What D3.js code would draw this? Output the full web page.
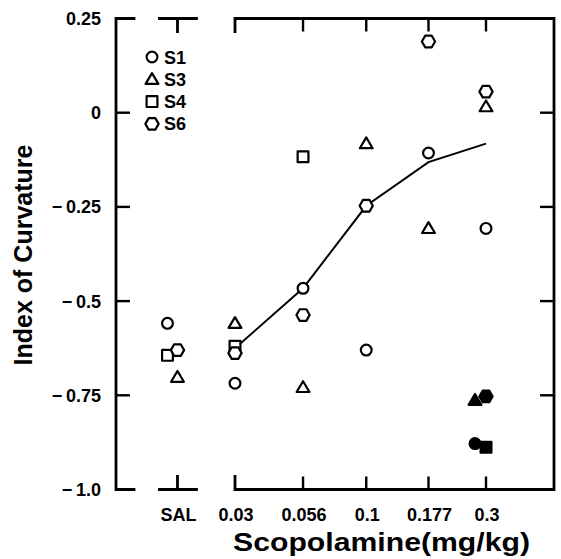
<!DOCTYPE html>
<html>
<head>
<meta charset="utf-8">
<script src="https://cdn.jsdelivr.net/npm/d3@7"></script>
<style>
  body { margin: 0; background: #fff; }
  text { font-family: 'Liberation Sans', Arial, Helvetica, sans-serif; font-weight: bold; fill: #000; }
</style>
</head>
<body>
<script>

var WIDTH = 561, HEIGHT = 559;
var LEFT = 116, RIGHT = 554, TOP = 18.5, BOTTOM = 489.5;

// doses, SAL sits one quarter-log step below 0.03
var doses = [0.0177, 0.03, 0.056, 0.1, 0.177, 0.3];
var doseLabels = ['SAL', '0.03', '0.056', '0.1', '0.177', '0.3'];

// index of curvature per subject, one value per dose (null = no point)
var s1 = [-0.559, -0.718, -0.466, -0.630, -0.107, -0.307];
var s3 = [-0.702, -0.559, -0.729, -0.082, -0.307, 0.016];
var s4 = [-0.644, -0.620, -0.117, null, null, null];
var s6 = [-0.630, -0.638, -0.537, -0.247, 0.189, 0.056];

// filled symbols at 0.3
var filledDose = 0.3;
var filledS1 = -0.878, filledS3 = -0.763, filledS4 = -0.888, filledS6 = -0.753;

// curve through the group
var curveDoses = [0.03, 0.056, 0.1, 0.177, 0.3];
var curveValues = [-0.625, -0.466, -0.247, -0.131, -0.082];

var yTicks = [0.25, 0, -0.25, -0.5, -0.75, -1.0];
var yTickLabels = ['0.25', '0', '\u2212\u20090.25', '\u2212\u20090.5', '\u2212\u20090.75', '\u2212\u20091.0'];

var subjects = ['S1', 'S3', 'S4', 'S6'];
var shapes = { S1: 'circle', S3: 'triangle', S4: 'square', S6: 'hexagon' };

// horizontal nudges for overlapping symbols (px)
var nudge = { 'S1-0': -10, 'S4-0': -10, 'S1-f': -11, 'S3-f': -11 };

var x = d3.scaleLog().domain([0.03, 0.3]).range([235, 486]);
var y = d3.scaleLinear().domain([0.25, -1.0]).range([TOP, BOTTOM]);

var svg = d3.select('body').append('svg').attr('width', WIDTH).attr('height', HEIGHT);

function symbolPath(shape) {
    if (shape === 'circle') return d3.arc()({ innerRadius: 0, outerRadius: 5.4, startAngle: 0, endAngle: 2 * Math.PI });
    if (shape === 'square') return 'M-5.4,-5.4H5.4V5.4H-5.4Z';
    if (shape === 'triangle') return 'M0,-6.2L6.4,4.6H-6.4Z';
    // hexagon, pointed left and right
    var pts = d3.range(6).map(function (i) {
        var a = i * Math.PI / 3;
        return [6.6 * Math.cos(a), 5.8 * Math.sin(a) / Math.sin(Math.PI / 3)];
    });
    return 'M' + pts.map(function (p) { return p[0].toFixed(2) + ',' + p[1].toFixed(2); }).join('L') + 'Z';
}

// ---- frame ----
var frame = svg.append('g')
    .attr('fill', 'none')
    .attr('stroke', '#000')
    .attr('stroke-width', 2.8)
    .attr('stroke-linecap', 'square');

var xSal = x(doses[0]), x03 = x(doses[1]);
var TICK = 13;

frame.append('path').attr('d',
    'M' + (LEFT + 18) + ',' + TOP + 'H' + LEFT + 'V' + BOTTOM + 'H' + (LEFT + 18));
frame.append('path').attr('d',
    'M' + (xSal - 18) + ',' + TOP + 'H' + (xSal + 19) +
    'M' + xSal + ',' + TOP + 'V' + (TOP + TICK));
frame.append('path').attr('d',
    'M' + (xSal - 18) + ',' + BOTTOM + 'H' + (xSal + 19) +
    'M' + xSal + ',' + BOTTOM + 'V' + (BOTTOM - TICK));
frame.append('path').attr('d',
    'M' + x03 + ',' + (TOP + TICK) + 'V' + TOP + 'H' + RIGHT + 'V' + BOTTOM + 'H' + x03 + 'V' + (BOTTOM - TICK));

var ticks = svg.append('g').attr('stroke', '#000').attr('stroke-width', 2.4);
doses.slice(2).forEach(function (d) {
    ticks.append('line').attr('x1', x(d)).attr('x2', x(d)).attr('y1', TOP).attr('y2', TOP + TICK);
    ticks.append('line').attr('x1', x(d)).attr('x2', x(d)).attr('y1', BOTTOM).attr('y2', BOTTOM - TICK);
});
yTicks.slice(1, -1).forEach(function (v) {
    ticks.append('line').attr('x1', LEFT).attr('x2', LEFT + 14).attr('y1', y(v)).attr('y2', y(v));
    ticks.append('line').attr('x1', RIGHT).attr('x2', RIGHT - 14).attr('y1', y(v)).attr('y2', y(v));
});

// ---- tick labels ----
svg.append('g').selectAll('text')
    .data(yTicks)
    .enter().append('text')
    .attr('x', 101)
    .attr('y', function (d) { return y(d) + 6.5; })
    .attr('text-anchor', 'end')
    .attr('font-size', 18)
    .text(function (d, i) { return yTickLabels[i]; });

svg.append('g').selectAll('text')
    .data(doses)
    .enter().append('text')
    .attr('x', function (d) { return x(d) + 1; })
    .attr('y', 521)
    .attr('text-anchor', 'middle')
    .attr('font-size', 18)
    .text(function (d, i) { return doseLabels[i]; });

// ---- axis titles ----
svg.append('text')
    .attr('transform', 'translate(32,255) rotate(-90)')
    .attr('text-anchor', 'middle')
    .attr('font-size', 25)
    .text('Index of Curvature');

svg.append('text')
    .attr('x', 233)
    .attr('y', 551)
    .attr('font-size', 26)
    .attr('textLength', 297)
    .attr('lengthAdjust', 'spacingAndGlyphs')
    .text('Scopolamine(mg/kg)');

// ---- curve ----
var line = d3.line()
    .x(function (d, i) { return x(curveDoses[i]); })
    .y(function (d) { return y(d); });

svg.append('path')
    .datum(curveValues)
    .attr('fill', 'none')
    .attr('stroke', '#000')
    .attr('stroke-width', 2)
    .attr('d', line);

// ---- points ----
var series = { S1: s1, S3: s3, S4: s4, S6: s6 };
var points = [];
subjects.forEach(function (s) {
    series[s].forEach(function (v, i) {
        if (v === null) return;
        points.push({ subject: s, dose: doses[i], value: v, filled: false, key: s + '-' + i });
    });
});
var filledValues = { S1: filledS1, S3: filledS3, S4: filledS4, S6: filledS6 };
subjects.forEach(function (s) {
    points.push({ subject: s, dose: filledDose, value: filledValues[s], filled: true, key: s + '-f' });
});

svg.append('g').selectAll('path')
    .data(points)
    .enter().append('path')
    .attr('transform', function (d) {
        return 'translate(' + (x(d.dose) + (nudge[d.key] || 0)) + ',' + y(d.value) + ')';
    })
    .attr('d', function (d) { return symbolPath(shapes[d.subject]); })
    .attr('fill', function (d) { return d.filled ? '#000' : '#fff'; })
    .attr('stroke', '#000')
    .attr('stroke-width', 2.2)
    .attr('stroke-linejoin', 'round');

// ---- legend ----
var legend = svg.append('g').selectAll('g')
    .data(subjects)
    .enter().append('g')
    .attr('transform', function (d, i) { return 'translate(152,' + (57 + i * 22.3) + ')'; });

legend.append('path')
    .attr('d', function (d) { return symbolPath(shapes[d]); })
    .attr('fill', '#fff')
    .attr('stroke', '#000')
    .attr('stroke-width', 2.2)
    .attr('stroke-linejoin', 'round');

legend.append('text')
    .attr('x', 12)
    .attr('y', 6.5)
    .attr('font-size', 18)
    .text(function (d) { return d; });

</script>
</body>
</html>
